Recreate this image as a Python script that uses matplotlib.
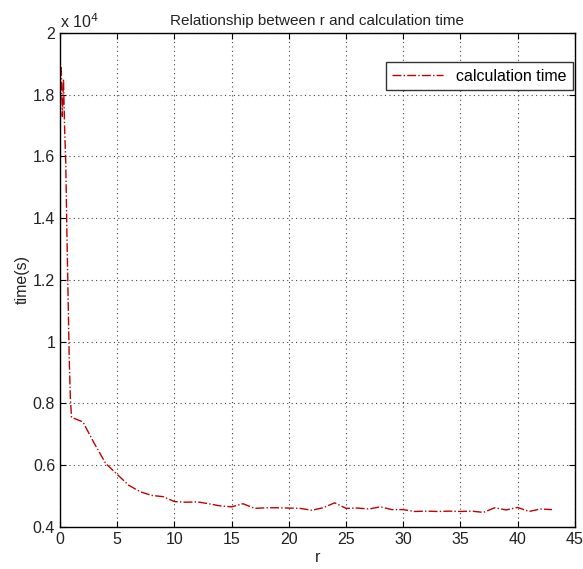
import numpy as np
import matplotlib.pyplot as plt
from matplotlib.ticker import FuncFormatter

plt.rcParams['font.family'] = ['Liberation Sans', 'DejaVu Sans']

# r values: fine steps near zero, then integers
r_vals = [0.1, 0.2, 0.3, 0.4, 0.5, 0.6, 0.7, 0.8, 0.9] + list(range(1, 44))
calc_time = [18900, 17300, 18500, 16900, 15800, 13500, 11500, 9500, 8200,
             7550, 7400, 6700, 6050, 5700, 5350, 5140, 5020, 4980, 4820,
             4800, 4810, 4750, 4680, 4650, 4750, 4600, 4620, 4620, 4610,
             4600, 4540, 4620, 4780, 4600, 4610, 4580, 4650, 4560, 4560,
             4500, 4510, 4500, 4510, 4500, 4510, 4470, 4620, 4550, 4630,
             4500, 4580, 4560]

fig = plt.figure(figsize=(5.83, 5.69), dpi=100)
ax = fig.add_axes([0.103, 0.074, 0.883, 0.868])

ax.plot(r_vals, calc_time, color='#c00000', linestyle='-.', linewidth=1.0,
        label='calculation time')

ax.set_xlim(0, 45)
ax.set_ylim(4000, 20000)
ax.set_xticks(np.arange(0, 46, 5))
ax.set_yticks(np.arange(4000, 20001, 2000))
ax.yaxis.set_major_formatter(FuncFormatter(lambda v, p: f'{v / 1e4:g}'))
ax.text(0.0, 1.005, r'x 10$^4$', transform=ax.transAxes, fontsize=11.5,
        ha='left', va='bottom', color='#222222')

ax.grid(True, linestyle=(0, (1, 3)), color='#444444', linewidth=0.8)
ax.tick_params(direction='in', labelsize=11.5, top=True, right=True, length=4,
               labelcolor='#222222')
for s in ax.spines.values():
    s.set_linewidth(1.0)

ax.set_title('Relationship between r and calculation time', fontsize=11,
             color='#222222')
ax.set_xlabel('r', fontsize=11.5, labelpad=2, color='#222222')
ax.set_ylabel('time(s)', fontsize=11.5, labelpad=2, color='#222222')
leg = ax.legend(loc='upper right', fontsize=11.5, fancybox=False,
                edgecolor='#333333', framealpha=1, borderaxespad=0,
                bbox_to_anchor=(0.996, 0.941), handlelength=3.2)
leg.get_frame().set_linewidth(1.0)

fig.savefig('out.png', dpi=100)
